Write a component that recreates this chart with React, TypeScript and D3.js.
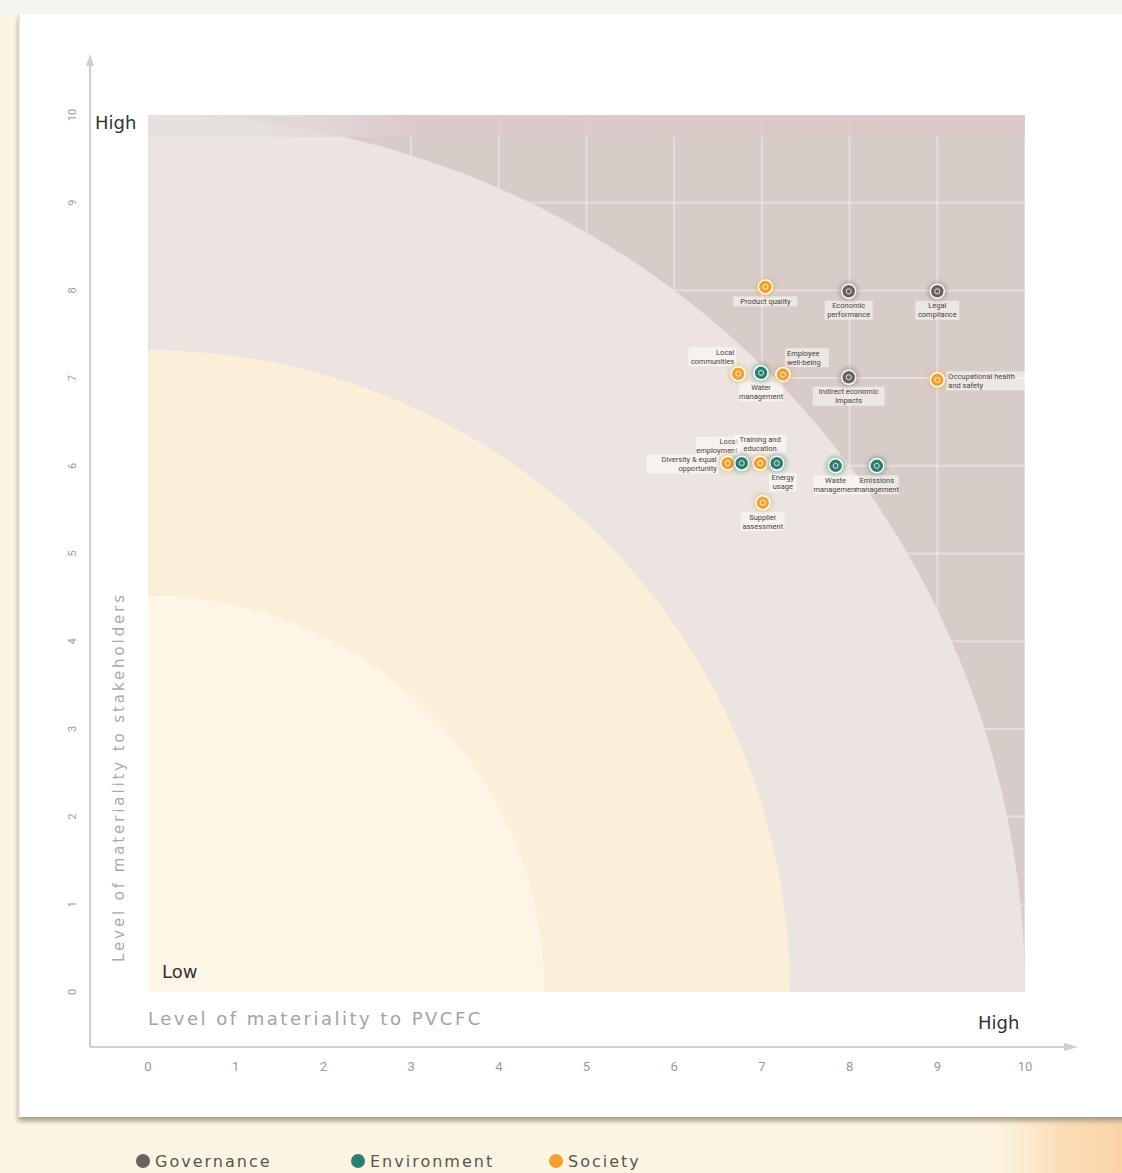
import React from 'react';
import * as d3 from 'd3';

// ---------- data ----------
const xTicks = [0, 1, 2, 3, 4, 5, 6, 7, 8, 9, 10];
const yTicks = [0, 1, 2, 3, 4, 5, 6, 7, 8, 9, 10];
const categories = ['Governance', 'Environment', 'Society'];
const categoryColors = ['#6b625b', '#2f7d70', '#f0a132'];

const topicNames = [
  'Product quality',
  'Economic\nperformance',
  'Legal\ncompliance',
  'Indirect economic\nimpacts',
  'Occupational health\nand safety',
  'Local\ncommunities',
  'Water\nmanagement',
  'Employee\nwell-being',
  'Diversity & equal\nopportunity',
  'Local\nemployment',
  'Training and\neducation',
  'Energy\nusage',
  'Waste\nmanagement',
  'Emissions\nmanagement',
  'Supplier\nassessment',
];
const topicPVCFC = [7.04, 7.99, 9.0, 7.99, 9.0, 6.73, 6.99, 7.24, 6.61, 6.77, 6.98, 7.17, 7.84, 8.31, 7.01];
const topicStakeholders = [8.04, 7.99, 7.99, 7.01, 6.98, 7.05, 7.06, 7.04, 6.03, 6.03, 6.03, 6.03, 6.0, 6.0, 5.58];
const topicCategory = [2, 0, 0, 0, 2, 2, 1, 2, 2, 1, 2, 1, 1, 1, 2];

const bandRadii = [10, 7.32, 4.52];
const bandColors = ['#ebe4e0', '#fcefd9', '#fdf6e7'];

// label placement (layout, not data)
const labelPlacement: Record<number, string> = {
  0: 'b', 1: 'b', 2: 'b', 3: 'b', 4: 'r', 5: 'al', 6: 'b', 7: 'ar',
  8: 'l', 9: 'al', 10: 'a', 11: 'br', 12: 'b', 13: 'b', 14: 'b',
};

export default function App() {
  const W = 1122, H = 1173;
  const plotL = 148, plotR = 1025, plotT = 115, plotB = 992;
  const x = d3.scaleLinear().domain([0, 10]).range([plotL, plotR]);
  const y = d3.scaleLinear().domain([0, 10]).range([plotB, plotT]);

  const bandPath = (r: number) => {
    const p = d3.path();
    p.moveTo(x(0), y(0));
    p.lineTo(x(0), y(r));
    const rx = x(r) - x(0);
    const ry = y(0) - y(r);
    return `${p.toString()} A ${rx} ${ry} 0 0 1 ${x(r)} ${y(0)} Z`;
  };

  const fontFamily = '"DejaVu Sans", Roboto, sans-serif';
  const smallFont = 'Roboto, "Open Sans", sans-serif';

  const renderLabel = (i: number) => {
    const lines = topicNames[i].split('\n');
    const cx = x(topicPVCFC[i]);
    const cy = y(topicStakeholders[i]);
    const place = labelPlacement[i] || 'b';
    const lh = 9;
    const fs = 7.5;
    const maxLen = d3.max(lines, (l) => l.length) || 1;
    const tw = maxLen * 4;
    const th = lines.length * lh;
    let anchor: 'start' | 'middle' | 'end' = 'middle';
    let tx = cx;
    let ty0 = cy + 16;
    if (place === 'b') { anchor = 'middle'; tx = cx; ty0 = cy + 17; }
    else if (place === 'br') { anchor = 'middle'; tx = cx + 6; ty0 = cy + 17; }
    else if (place === 'r') { anchor = 'start'; tx = cx + 11; ty0 = cy - 1; }
    else if (place === 'l') { anchor = 'end'; tx = cx - 11; ty0 = cy - 1; }
    else if (place === 'al') { anchor = 'end'; tx = cx - 4; ty0 = cy - 10 - (lines.length - 1) * lh; }
    else if (place === 'ar') { anchor = 'start'; tx = cx + 4; ty0 = cy - 10 - (lines.length - 1) * lh; }
    else if (place === 'a') { anchor = 'middle'; tx = cx; ty0 = cy - 12 - (lines.length - 1) * lh; }
    const rx0 = anchor === 'start' ? tx - 2 : anchor === 'end' ? tx - tw - 2 : tx - tw / 2 - 2;
    return (
      <g key={`lab${i}`}>
        <rect x={rx0} y={ty0 - 7.5} width={tw + 4} height={th + 1} fill="#ffffff" opacity={0.5} />
        <text x={tx} y={ty0} fontSize={fs} fill="#4a4440" textAnchor={anchor} fontFamily={smallFont}>
          {lines.map((l, k) => (
            <tspan key={k} x={tx} dy={k === 0 ? 0 : lh}>{l}</tspan>
          ))}
        </text>
      </g>
    );
  };

  const legendX = [143, 358, 556];

  return (
    <svg width={W} height={H} style={{ position: 'absolute', left: 0, top: 0 }} xmlns="http://www.w3.org/2000/svg">
      <defs>
        <linearGradient id="topStrip" x1="0" x2="1" y1="0" y2="0">
          <stop offset="0%" stopColor="#e4e0de" />
          <stop offset="10%" stopColor="#e4e0de" />
          <stop offset="22%" stopColor="#e2d6d6" />
          <stop offset="30%" stopColor="#ddcaca" />
          <stop offset="100%" stopColor="#dcc8c7" />
        </linearGradient>
        <linearGradient id="cornerGlow" x1="0" x2="1" y1="0" y2="0">
          <stop offset="0%" stopColor="#fdf5e4" stopOpacity={0} />
          <stop offset="60%" stopColor="#fbdcb4" stopOpacity={0.9} />
          <stop offset="100%" stopColor="#f9d3a6" />
        </linearGradient>
        <filter id="shadow" x="-5%" y="-5%" width="110%" height="110%">
          <feGaussianBlur stdDeviation="2.5" />
        </filter>
        <filter id="halo" x="-50%" y="-50%" width="200%" height="200%">
          <feGaussianBlur stdDeviation="2" />
        </filter>
        <clipPath id="plotClip">
          <rect x={plotL} y={plotT} width={plotR - plotL} height={plotB - plotT} />
        </clipPath>
      </defs>

      {/* page background */}
      <rect x={0} y={0} width={W} height={H} fill="#fdf5e4" />
      <rect x={0} y={0} width={W} height={16} fill="#f5f4ee" />
      <rect x={960} y={1117} width={162} height={56} fill="url(#cornerGlow)" />

      {/* card */}
      <rect x={18} y={18} width={W} height={1103} fill="#a89c88" filter="url(#shadow)" />
      <rect x={18} y={14} width={W} height={1103} fill="#ffffff" />
      <line x1={19} y1={14} x2={19} y2={1117} stroke="#e6e3dc" strokeWidth={2} />

      {/* plot background */}
      <g clipPath="url(#plotClip)">
        <rect x={plotL} y={plotT} width={plotR - plotL} height={plotB - plotT} fill="#d8ccc8" />
        {xTicks.map((t) => (
          <line key={`gx${t}`} x1={x(t)} x2={x(t)} y1={plotT} y2={plotB} stroke="#ffffff" strokeOpacity={0.35} strokeWidth={2} />
        ))}
        {yTicks.map((t) => (
          <line key={`gy${t}`} x1={plotL} x2={plotR} y1={y(t)} y2={y(t)} stroke="#ffffff" strokeOpacity={0.35} strokeWidth={2} />
        ))}
        {bandRadii.map((r, i) => (
          <path key={`band${i}`} d={bandPath(r)} fill={bandColors[i]} />
        ))}
        <rect x={plotL} y={plotT} width={plotR - plotL} height={22} fill="url(#topStrip)" opacity={0.85} />
      </g>

      {/* axes */}
      <line x1={90} y1={1047} x2={90} y2={58} stroke="#cfcfcf" strokeWidth={2} />
      <path d="M 86 66 L 90 54 L 94 66 Z" fill="#cfcfcf" />
      <line x1={90} y1={1047} x2={1072} y2={1047} stroke="#cfcfcf" strokeWidth={2} />
      <path d="M 1064 1043 L 1078 1047 L 1064 1051 Z" fill="#cfcfcf" />

      {xTicks.map((t) => (
        <text key={`xt${t}`} x={x(t)} y={1071} fontSize={13} fill="#9a9a9a" textAnchor="middle" fontFamily={smallFont}>{t}</text>
      ))}
      {yTicks.map((t) => (
        <text key={`yt${t}`} x={0} y={0} transform={`translate(76, ${y(t)}) rotate(-90)`} fontSize={11} fill="#9a9a9a" textAnchor="middle" fontFamily={smallFont}>{t}</text>
      ))}

      {/* axis titles */}
      <text x={0} y={0} transform="translate(124, 962) rotate(-90)" fontSize={15} fill="#aaaaaa" fontFamily={fontFamily} letterSpacing={2.9}>Level of materiality to stakeholders</text>
      <text x={148} y={1025} fontSize={18} fill="#a3a3a3" fontFamily={fontFamily} letterSpacing={2.5}>Level of materiality to PVCFC</text>
      <text x={95} y={129} fontSize={18} fill="#333333" fontFamily={fontFamily}>High</text>
      <text x={162} y={978} fontSize={18} fill="#333333" fontFamily={fontFamily}>Low</text>
      <text x={978} y={1029} fontSize={18} fill="#333333" fontFamily={fontFamily}>High</text>

      {/* labels */}
      {topicNames.map((_, i) => renderLabel(i))}

      {/* markers */}
      {topicNames.map((_, i) => {
        const cx = x(topicPVCFC[i]);
        const cy = y(topicStakeholders[i]);
        const c = categoryColors[topicCategory[i]];
        return (
          <g key={`pt${i}`}>
            <circle cx={cx} cy={cy} r={10} fill={c} opacity={0.35} filter="url(#halo)" />
            <circle cx={cx} cy={cy} r={7} fill={c} stroke="#ffffff" strokeWidth={1.5} />
            <circle cx={cx} cy={cy} r={2.5} fill="none" stroke="#ffffff" strokeWidth={1} opacity={0.8} />
          </g>
        );
      })}

      {/* legend */}
      {categories.map((c, i) => (
        <g key={`lg${i}`}>
          <circle cx={legendX[i]} cy={1161} r={7} fill={categoryColors[i]} />
          <text x={legendX[i] + 12} y={1167} fontSize={16} fill="#5a5550" fontFamily={fontFamily} letterSpacing={2}>{c}</text>
        </g>
      ))}
    </svg>
  );
}
